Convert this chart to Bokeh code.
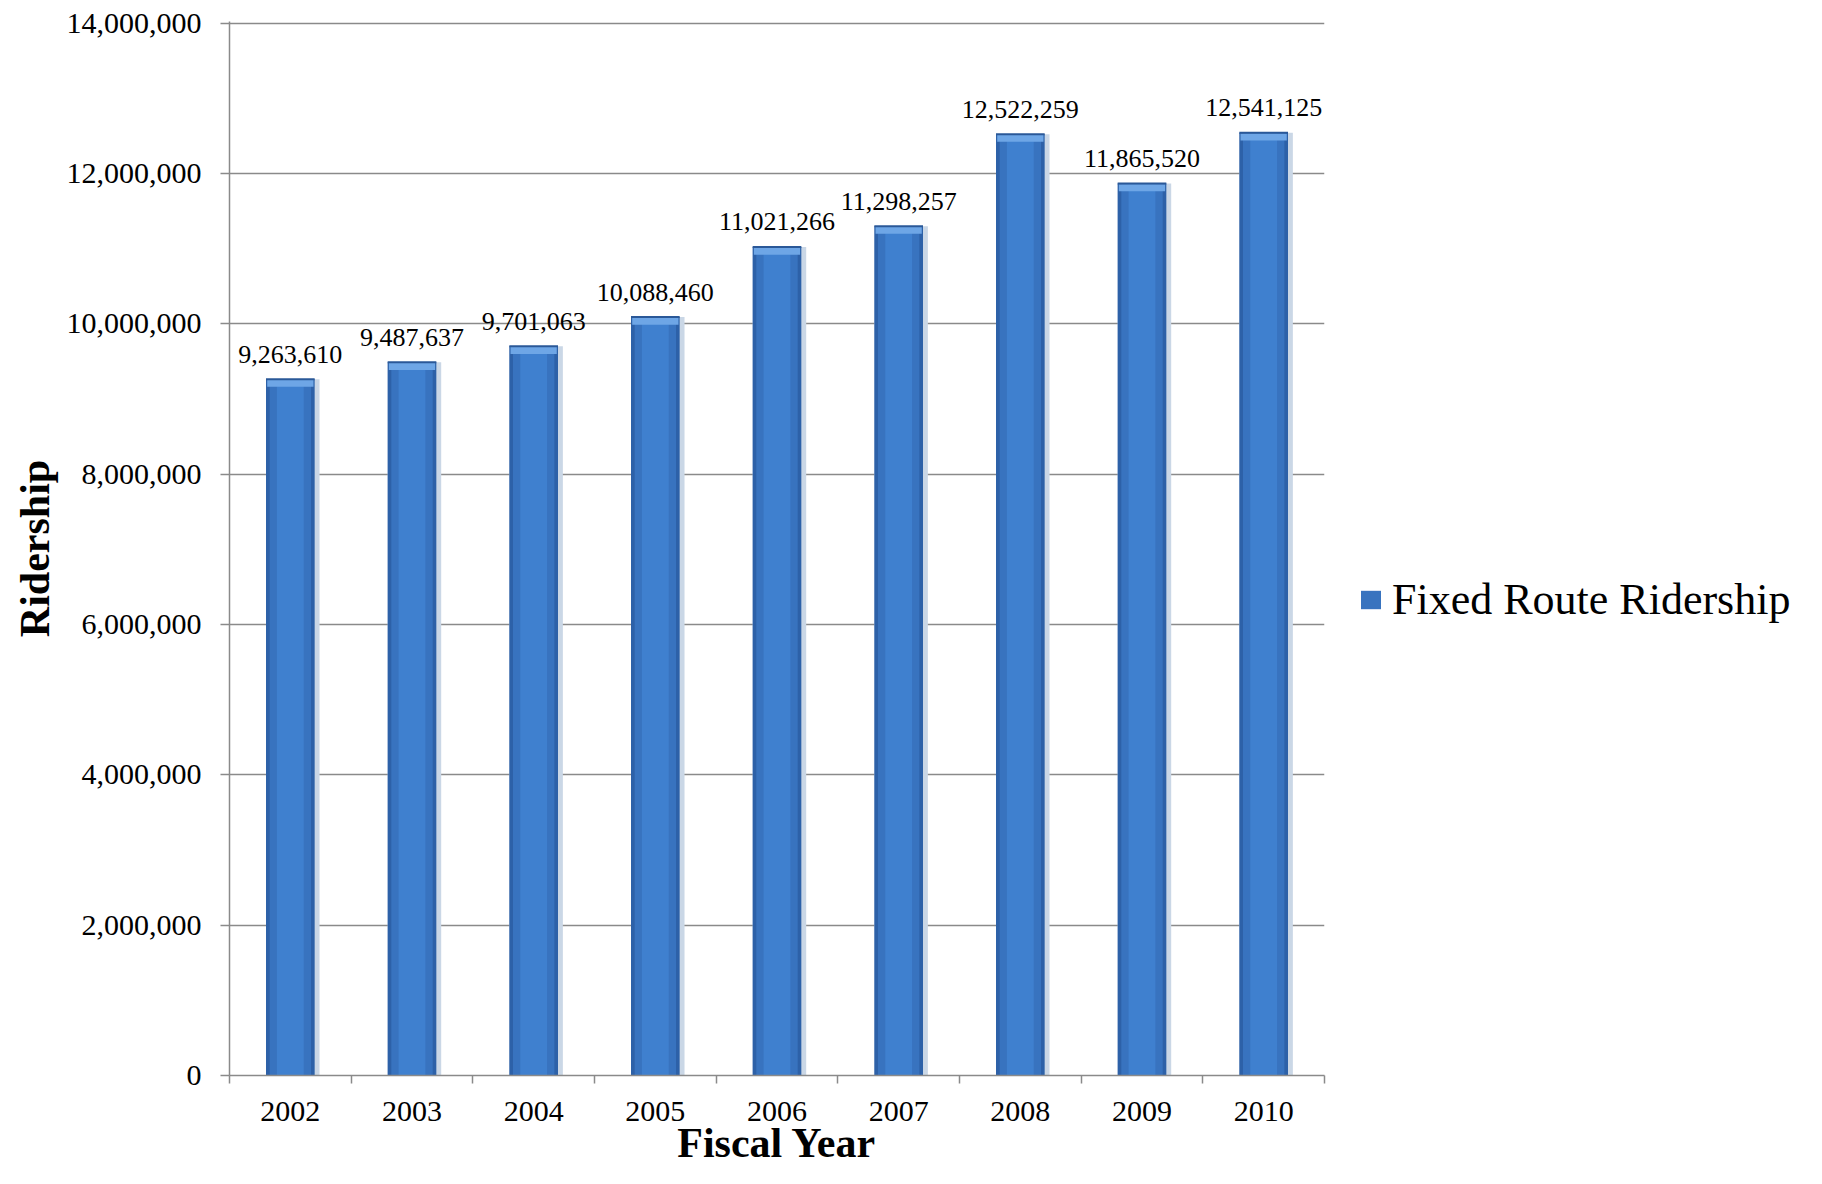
from bokeh.plotting import figure
from bokeh.layouts import row
from bokeh.models import (ColumnDataSource, FixedTicker, NumeralTickFormatter,
                          Legend, LegendItem, Range1d)
from bokeh.transform import dodge
from bokeh.core.properties import value
from bokeh.embed import file_html
from bokeh.resources import INLINE

# ---- data ----
years = ["2002", "2003", "2004", "2005", "2006", "2007", "2008", "2009", "2010"]
ridership = [9263610, 9487637, 9701063, 10088460, 11021266,
             11298257, 12522259, 11865520, 12541125]
y_ticks = [0, 2000000, 4000000, 6000000, 8000000, 10000000, 12000000, 14000000]
series_name = "Fixed Route Ridership"
x_title = "Fiscal Year"
y_title = "Ridership"

FONT = "Liberation Serif"
GRID = "#8A8A8A"

idx = list(range(len(years)))
src = ColumnDataSource(dict(x=idx, top=ridership,
                            label=[f"{v:,}" for v in ridership]))

p = figure(width=1326, height=1168,
           x_range=Range1d(-0.5, len(years) - 0.5),
           y_range=Range1d(y_ticks[0], y_ticks[-1] * 1.0015),
           output_backend="svg", toolbar_location=None,
           min_border_left=229, min_border_right=2,
           min_border_top=21, min_border_bottom=92)
p.outline_line_color = None
p.background_fill_color = "white"

# bars with a simple cylinder-like shading
p.vbar(x=dodge("x", 0.02), top="top", bottom=0, width=0.44, source=src,
       fill_color="#CAD7E6", line_color=None)
p.vbar(x="x", top="top", bottom=0, width=0.40, source=src,
       fill_color="#2D61A8", line_color=None)
p.vbar(x="x", top="top", bottom=0, width=0.34, source=src,
       fill_color="#3873BF", line_color=None)
p.vbar(x="x", top="top", bottom=0, width=0.22, source=src,
       fill_color="#3F80CF", line_color=None)
p.rect(x="x", y=dodge("top", -55000), width=0.38, height=7,
       height_units="screen", source=src, fill_color="#6EA6E6", line_color=None)
p.rect(x="x", y="top", width=0.40, height=2, height_units="screen",
       source=src, fill_color="#2A5898", line_color=None)

# value labels
p.text(x="x", y="top", text="label", source=src, text_align="center",
       text_baseline="alphabetic", y_offset=-25,
       text_font=value(FONT), text_font_size="26px", text_color="black")

# y axis
p.yaxis.ticker = FixedTicker(ticks=y_ticks)
p.yaxis.formatter = NumeralTickFormatter(format="0,0")
p.yaxis.major_tick_out = 9
p.yaxis.major_tick_in = 0
p.yaxis.minor_tick_line_color = None
p.yaxis.major_tick_line_color = GRID
p.yaxis.major_tick_line_width = 1.5
p.yaxis.axis_line_color = GRID
p.yaxis.axis_line_width = 1.5
p.yaxis.major_label_standoff = 19
p.yaxis.major_label_text_font = FONT
p.yaxis.major_label_text_font_size = "30px"
p.yaxis.major_label_text_color = "black"
p.yaxis.axis_label = y_title
p.yaxis.axis_label_text_font = FONT
p.yaxis.axis_label_text_font_style = "bold"
p.yaxis.axis_label_text_font_size = "42px"
p.yaxis.axis_label_text_color = "black"
p.yaxis.axis_label_standoff = 6

# x axis: labels at centres, ticks at category boundaries
p.xaxis.ticker = FixedTicker(ticks=idx, minor_ticks=[i - 0.5 for i in range(len(years) + 1)])
p.xaxis.major_label_overrides = {i: y for i, y in zip(idx, years)}
p.xaxis.major_tick_line_color = None
p.xaxis.major_tick_out = 0
p.xaxis.major_tick_in = 0
p.xaxis.minor_tick_out = 8
p.xaxis.minor_tick_in = 0
p.xaxis.minor_tick_line_color = GRID
p.xaxis.minor_tick_line_width = 1.5
p.xaxis.axis_line_color = GRID
p.xaxis.axis_line_width = 1.5
p.xaxis.major_label_standoff = 18
p.xaxis.major_label_text_font = FONT
p.xaxis.major_label_text_font_size = "30px"
p.xaxis.major_label_text_color = "black"
p.xaxis.axis_label = x_title
p.xaxis.axis_label_text_font = FONT
p.xaxis.axis_label_text_font_style = "bold"
p.xaxis.axis_label_text_font_size = "42px"
p.xaxis.axis_label_text_color = "black"
p.xaxis.axis_label_standoff = -4

# grid
p.xgrid.visible = False
p.ygrid.ticker = FixedTicker(ticks=y_ticks)
p.ygrid.grid_line_color = GRID
p.ygrid.grid_line_width = 1.5

# legend panel: a second figure to the right of the chart
q = figure(width=480, height=1168, x_range=Range1d(-100, -99), y_range=Range1d(0, 1),
           output_backend="svg", toolbar_location=None,
           min_border_left=0, min_border_right=0, min_border_top=0, min_border_bottom=0)
q.axis.visible = False
q.grid.visible = False
q.outline_line_color = None
swatch = q.vbar(x="x", top="top", bottom=0, width=0.34, source=src,
                fill_color="#3873BF", line_color=None)
legend = Legend(items=[LegendItem(label=series_name, renderers=[swatch])],
                location=(32, 450), orientation="vertical",
                padding=5, margin=0, spacing=0,
                glyph_width=25, glyph_height=23, label_standoff=9,
                label_text_font=FONT, label_text_font_size="44px",
                label_text_color="black",
                border_line_color=None, background_fill_alpha=0)
q.add_layout(legend, "center")

layout = row(p, q, spacing=0)
open("out.html", "w").write(file_html(layout, INLINE))
